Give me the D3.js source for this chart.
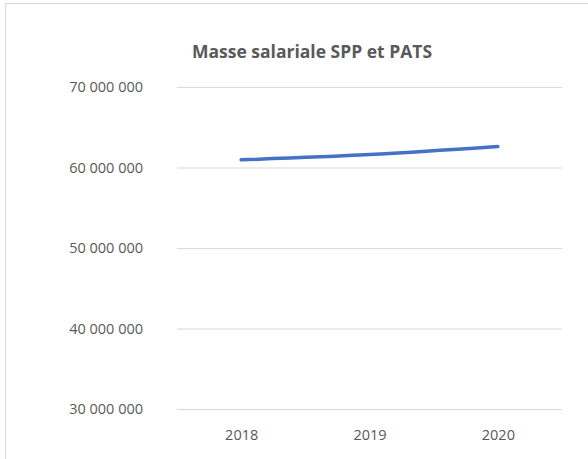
<!DOCTYPE html>
<html>
<head>
<meta charset="utf-8">
<script src="https://cdn.jsdelivr.net/npm/d3@7"></script>
<style>
  body { margin: 0; background: #fff; }
  svg { display: block; font-family: "Open Sans", "Liberation Sans", sans-serif; }
</style>
</head>
<body>
<div id="chart"></div>
<script>
const title = "Masse salariale SPP et PATS";
const years = ["2018", "2019", "2020"];
const masse = [60950000, 61600000, 62600000];
const yTicks = [30000000, 40000000, 50000000, 60000000, 70000000];

const width = 588, height = 459;
const margin = { top: 87, right: 26, bottom: 50, left: 177 };

const svg = d3.select("#chart")
    .append("svg")
    .attr("width", width)
    .attr("height", height);

// outer frame, only top and left edges visible
svg.append("rect")
    .attr("x", 5.5).attr("y", 3.5)
    .attr("width", width + 20).attr("height", height + 20)
    .attr("fill", "none")
    .attr("stroke", "#d9d9d9");

svg.append("text")
    .attr("x", 312).attr("y", 58)
    .attr("text-anchor", "middle")
    .attr("font-size", 17.5)
    .attr("font-weight", "bold")
    .attr("fill", "#595959")
    .text(title);

const x = d3.scalePoint()
    .domain(years)
    .range([margin.left, width - margin.right])
    .padding(0.5);

const y = d3.scaleLinear()
    .domain([30000000, 70000000])
    .range([409, margin.top]);

const fmt = d3.formatLocale({ decimal: ",", thousands: " ", grouping: [3], currency: ["", ""] }).format(",d");

// gridlines + y labels
const yAxis = svg.append("g")
    .attr("transform", "translate(" + margin.left + ",0)")
    .call(d3.axisLeft(y).tickValues(yTicks).tickFormat(fmt)
        .tickSize(-(width - margin.right - margin.left)).tickPadding(34));
yAxis.select(".domain").remove();
yAxis.selectAll(".tick line").attr("stroke", "#d9d9d9");
yAxis.selectAll(".tick text")
    .attr("fill", "#595959")
    .attr("font-size", 14.5)
    .attr("font-family", "Open Sans, sans-serif");

const xAxis = svg.append("g")
    .attr("transform", "translate(0,409)")
    .call(d3.axisBottom(x).tickSize(0).tickPadding(21));
xAxis.select(".domain").remove();
xAxis.selectAll(".tick text")
    .attr("fill", "#595959")
    .attr("font-size", 14.5)
    .attr("font-family", "Open Sans, sans-serif");

const line = d3.line()
    .x((d, i) => x(years[i]))
    .y(d => y(d))
    .curve(d3.curveMonotoneX);

svg.append("path")
    .datum(masse)
    .attr("d", line)
    .attr("fill", "none")
    .attr("stroke", "#4472c4")
    .attr("stroke-width", 3.5)
    .attr("stroke-linecap", "round");
</script>
</body>
</html>
